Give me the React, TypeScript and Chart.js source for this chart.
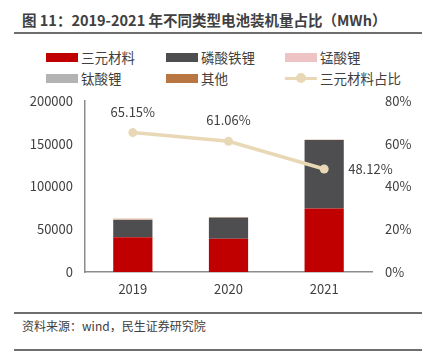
import React, { useEffect, useRef } from "react";
import { Chart, registerables } from "chart.js";

Chart.register(...registerables);

const categories = ["2019", "2020", "2021"];
const ncm = [40500, 38900, 74300];
const lfp = [20200, 24400, 79800];
const lmo = [300, 200, 100];
const lto = [200, 100, 50];
const others = [1000, 700, 300];
const ncmShare = [0.6515, 0.6106, 0.4812];
const leftTicks = [0, 50000, 100000, 150000, 200000];
const rightTicks = [0, 0.2, 0.4, 0.6, 0.8];

const seriesNames = ["三元材料", "磷酸铁锂", "锰酸锂", "钛酸锂", "其他", "三元材料占比"];
const colors = ["#c00000", "#4e4e50", "#eec3c3", "#b3b3b3", "#b87642", "#e9d8b6"];

const FONT = "'Noto Sans CJK SC', 'Microsoft YaHei', sans-serif";

const labelPlugin = {
  id: "shareLabels",
  afterDatasetsDraw(chart: any) {
    const ctx = chart.ctx;
    const meta = chart.getDatasetMeta(5);
    ctx.save();
    ctx.font = `13px ${FONT}`;
    ctx.fillStyle = "#404040";
    meta.data.forEach((pt: any, i: number) => {
      const txt = (ncmShare[i] * 100).toFixed(2) + "%";
      if (i === ncmShare.length - 1) {
        ctx.textAlign = "left";
        ctx.textBaseline = "middle";
        ctx.fillText(txt, pt.x + 24, pt.y);
      } else {
        ctx.textAlign = "center";
        ctx.textBaseline = "middle";
        ctx.fillText(txt, pt.x, pt.y - 21);
      }
    });
    ctx.restore();
  },
};

export default function App() {
  const ref = useRef<HTMLCanvasElement | null>(null);
  useEffect(() => {
    if (!ref.current) return;
    const barData = [ncm, lfp, lmo, lto, others];
    const chart = new Chart(ref.current, {
      type: "bar",
      data: {
        labels: categories,
        datasets: [
          ...barData.map((d, i) => ({
            type: "bar" as const,
            label: seriesNames[i],
            data: d,
            backgroundColor: colors[i],
            yAxisID: "y",
            stack: "s",
            barPercentage: 0.41,
            categoryPercentage: 1,
            order: 2,
          })),
          {
            type: "line" as const,
            label: seriesNames[5],
            data: ncmShare,
            borderColor: colors[5],
            backgroundColor: colors[5],
            borderWidth: 3.5,
            pointRadius: 4.5,
            pointBackgroundColor: colors[5],
            pointBorderWidth: 0,
            yAxisID: "y1",
            order: 1,
          },
        ],
      } as any,
      options: {
        animation: false,
        responsive: false,
        maintainAspectRatio: false,
        layout: { padding: { left: 0, right: 0, top: 20, bottom: 0 } },
        plugins: { legend: { display: false }, tooltip: { enabled: false } },
        scales: {
          x: {
            stacked: true,
            grid: { display: false, drawTicks: false },
            border: { display: true, color: "#8c8c8c", width: 1.5 },
            ticks: { color: "#404040", font: { family: FONT, size: 13 }, padding: 9 },
            afterFit: (s: any) => {
              s.height = 28;
            },
          },
          y: {
            stacked: true,
            min: 0,
            max: 200000,
            afterBuildTicks: (s: any) => {
              s.ticks = leftTicks.map((v) => ({ value: v }));
            },
            afterFit: (s: any) => {
              s.width = 85;
            },
            grid: { display: false, drawTicks: false },
            border: { display: true, color: "#8c8c8c", width: 1.5 },
            ticks: {
              color: "#404040",
              font: { family: FONT, size: 13 },
              padding: 12,
              callback: (v: any) => String(v),
            },
          },
          y1: {
            position: "right",
            min: 0,
            max: 0.8,
            afterBuildTicks: (s: any) => {
              s.ticks = rightTicks.map((v) => ({ value: v }));
            },
            afterFit: (s: any) => {
              s.width = 54;
            },
            grid: { display: false, drawTicks: false },
            border: { display: false },
            ticks: {
              color: "#404040",
              font: { family: FONT, size: 13 },
              padding: 13,
              callback: (v: any) => Math.round(Number(v) * 100) + "%",
            },
          },
        },
      } as any,
      plugins: [labelPlugin],
    });
    return () => chart.destroy();
  }, []);

  const legendItem = (i: number, left: number, top: number) => (
    <div
      key={i}
      style={{ position: "absolute", left, top, display: "flex", alignItems: "center", height: 18 }}
    >
      {i === 5 ? (
        <div style={{ position: "relative", width: 32, height: 10 }}>
          <div style={{ position: "absolute", left: 0, top: 3.5, width: 32, height: 3, background: colors[5] }} />
          <div style={{ position: "absolute", left: 11, top: 0, width: 10, height: 10, borderRadius: 5, background: colors[5] }} />
        </div>
      ) : (
        <div style={{ width: 32, height: 9, background: colors[i] }} />
      )}
      <span style={{ marginLeft: 3, fontSize: 13.5, color: "#404040", fontFamily: FONT }}>{seriesNames[i]}</span>
    </div>
  );

  return (
    <div
      style={{
        position: "fixed",
        left: 0,
        top: 0,
        width: 426,
        height: 354,
        background: "#fff",
        fontFamily: FONT,
        overflow: "hidden",
      }}
    >
      <div
        style={{
          position: "absolute",
          left: 22,
          top: 9,
          fontSize: 14.5,
          fontWeight: "bold",
          color: "#404040",
          whiteSpace: "nowrap",
        }}
      >
        图 11：2019-2021 年不同类型电池装机量占比（MWh）
      </div>
      <div style={{ position: "absolute", left: 14, top: 32, width: 408, height: 2, background: "#6e6e6e" }} />
      {legendItem(0, 46, 48)}
      {legendItem(1, 166, 48)}
      {legendItem(2, 285, 48)}
      {legendItem(3, 46, 69)}
      {legendItem(4, 166, 69)}
      {legendItem(5, 285, 69)}
      <canvas ref={ref} width={426} height={220} style={{ position: "absolute", left: 0, top: 80 }} />
      <div style={{ position: "absolute", left: 14, top: 312, width: 408, height: 1.5, background: "#6e6e6e" }} />
      <div
        style={{ position: "absolute", left: 22, top: 317, fontSize: 12, color: "#404040", whiteSpace: "nowrap" }}
      >
        资料来源：wind，民生证券研究院
      </div>
      <div style={{ position: "absolute", left: 14, top: 349, width: 408, height: 1.5, background: "#6e6e6e" }} />
    </div>
  );
}
